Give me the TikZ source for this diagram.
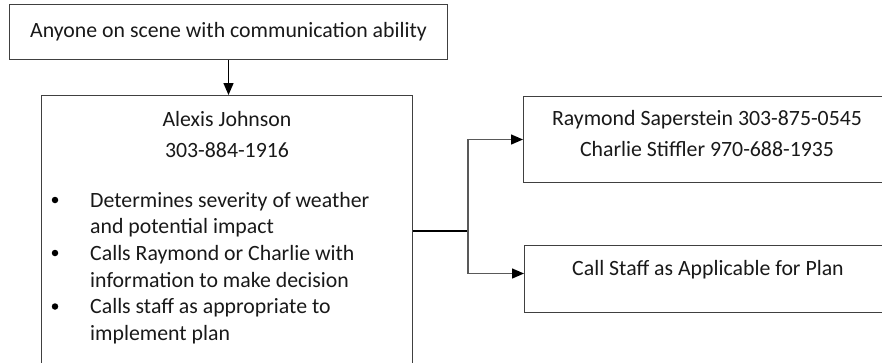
\documentclass[tikz,border=0pt]{standalone}
\usepackage{fontspec}
\setmainfont{Carlito}
\usetikzlibrary{positioning,arrows.meta}

\begin{document}
\begin{tikzpicture}[x=1pt,y=-1pt,
        box/.style={draw=black!75, line width=1pt, inner sep=0pt},
        txt/.style={font=\fontsize{21.8}{26}\selectfont, text=black!90, inner sep=0pt},
        dot/.style={circle, fill=black, inner sep=0pt, minimum size=6.5pt},
        link/.style={draw=black!65, line width=1.4pt, -{Triangle[length=12pt,width=10pt,color=black]}}]
        \clip (0,0) rectangle (882,362);
        \node[box, txt, minimum width=438, minimum height=55, anchor=north west] (anyone) at (9,4) {Anyone on scene with communication ability};
        \node[box, minimum width=371, minimum height=300, anchor=north west] (alexis) at (41,95) {};
        \node[box, minimum width=368, minimum height=86, anchor=north west] (raymond) at (523,96) {};
        \node[box, minimum width=368, minimum height=67, anchor=north west] (staff) at (524,245) {};
        % texts
        \node[txt, anchor=base] (alexisname) at (227,126) {Alexis Johnson};
        \node[txt, anchor=base] (alexisphone) at (227,157) {303-884-1916};
        \foreach \y/\t [count=\i] in {207/Determines severity of weather, 233.5/and potential impact,
                260/Calls Raymond or Charlie with, 287/information to make decision,
                313.5/Calls staff as appropriate to, 340/implement plan}
            \node[txt, anchor=base west] (item\i) at (90,\y) {\t};
        \foreach \y [count=\i] in {200,253,306.5}
            \node[dot] (dot\i) at (55,\y) {};
        \node[txt, anchor=base] (raymondtxt) at (707,125) {Raymond Saperstein 303-875-0545};
        \node[txt, anchor=base] (charlietxt) at (707,156) {Charlie Stiffler 970-688-1935};
        \node[txt, anchor=base] (stafftxt) at (708,275) {Call Staff as Applicable for Plan};
        % connectors
        \coordinate (split) at (468,231);
        \draw[link, draw=black] (anyone.south) -- (anyone.south |- alexis.north);
        \draw[line width=2.2pt] (alexis.east |- split) -- (split);
        \draw[link] (split) |- (raymond.west);
        \draw[link] (split) |- ([yshift=5.5]staff.west);
\end{tikzpicture}
\end{document}
